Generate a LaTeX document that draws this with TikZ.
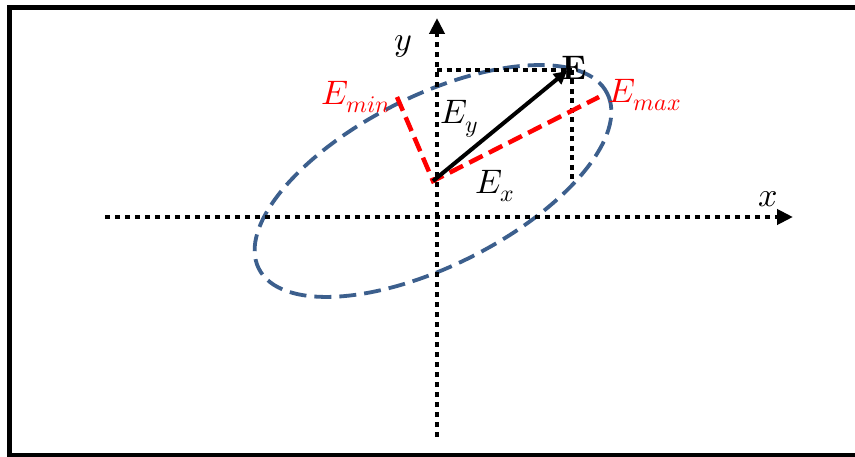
\documentclass[tikz,border=0pt]{standalone}
\usepackage{unicode-math}
\setmathfont{Latin Modern Math}
\usetikzlibrary{arrows.meta}
\definecolor{ellblue}{HTML}{3C5F8D}
\definecolor{vred}{HTML}{FF0000}
\begin{document}
\begin{tikzpicture}[x=1pt,y=-1pt,
  axisline/.style={line width=4.5pt,dash pattern=on 5pt off 5pt,line cap=butt,
    -{Triangle[length=16pt,width=15pt]}},
  projline/.style={line width=4pt,dash pattern=on 5pt off 4.5pt,line cap=butt},
  reddash/.style={vred,line width=4.5pt,dash pattern=on 15pt off 7pt,line cap=butt},
  elldash/.style={ellblue,line width=3.8pt,dash pattern=on 17pt off 8pt},
  vec/.style={line width=4pt,-{Triangle[length=13pt,width=13pt]}},
  lbl/.style={inner sep=0pt,font=\fontsize{34}{38}\selectfont},
  redlbl/.style={lbl,text=vred}]
\useasboundingbox (0,0) rectangle (855,457);
\clip (0,0) rectangle (855,457);
\fill[white] (0,0) rectangle (855,457);
\draw[line width=4.5pt] (9.5,7.5) rectangle (900,455.5);
% coordinates
\coordinate (xs) at (105,217);
\coordinate (xe) at (793,217);
\coordinate (ys) at (437,437);
\coordinate (ye) at (437,18);
\coordinate (C) at (433,181);
\coordinate (Etip) at (567,71);
\coordinate (Emaxend) at (599,97);
\coordinate (Eminend) at (397,97);
\coordinate (py) at (437,70);
\coordinate (pxa) at (572,70);
\coordinate (pxb) at (572,181);
% ellipse
\draw[elldash,rotate around={26.7:(C)}] (C) ellipse [x radius=195, y radius=85];
% axes
\draw[axisline] (xs) -- (xe);
\draw[axisline] (ys) -- (ye);
% projections
\draw[projline] (py) -- (pxa);
\draw[projline] (pxa) -- (pxb);
% red axes
\draw[reddash] (Eminend) -- (C) -- (Emaxend);
% vector
\draw[vec] (C) -- (Etip);
% labels
\node[lbl] (ylab) at (403,46) {$y$};
\node[lbl] (xlab) at (768,199) {$x$};
\node[lbl] (Elab) at (574,68) {$\mathbf{E}$};
\node[redlbl] (Eminlab) at (356,97) {$E_{min}$};
\node[redlbl] (Emaxlab) at (645,95) {$E_{max}$};
\node[lbl] (Eylab) at (459,119) {$E_y$};
\node[lbl] (Exlab) at (495,186) {$E_x$};
\end{tikzpicture}
\end{document}
